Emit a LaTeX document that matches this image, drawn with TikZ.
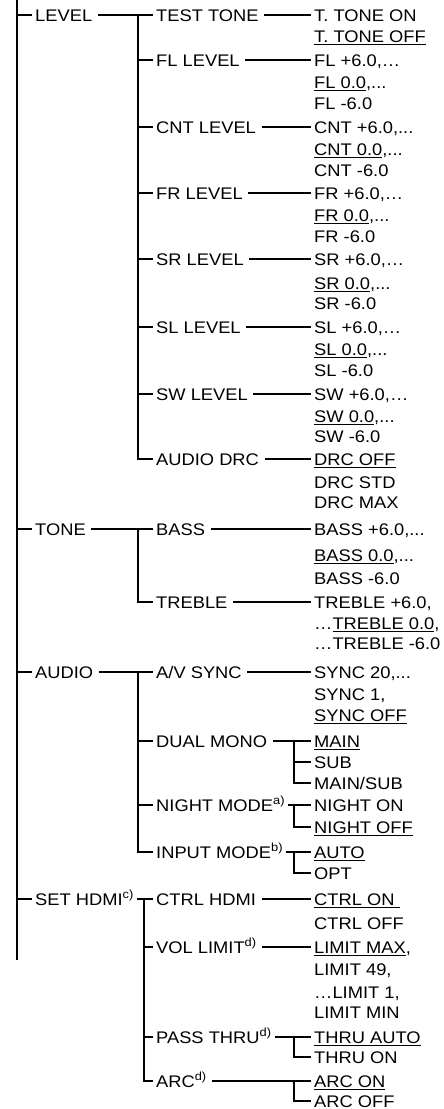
\documentclass[tikz,border=0pt]{standalone}
\usepackage{fontspec}
\setmainfont{Liberation Sans}[FakeStretch=1.09]
\newcommand\myul[1]{\setbox0\hbox{#1}\rlap{\rule[-3.2pt]{\wd0}{1.1pt}}\box0}
\tikzset{
  lab/.style={anchor=west, inner xsep=3pt, inner ysep=0pt, text height=12pt, text depth=0pt, font=\fontsize{16.8}{20}\selectfont},
  wire/.style={line width=1.8pt, line cap=butt},
  link/.style={wire, shorten <=2.5pt}
}
\begin{document}
\begin{tikzpicture}[x=1pt,y=-1pt]
\useasboundingbox (0,0) rectangle (444,1109);
% level 1
\node[lab] (L1) at (32,15) {LEVEL};
\node[lab] (T1) at (32,529) {TONE};
\node[lab] (A1) at (32,672) {AUDIO};
\node[lab] (H1) at (32,899) {SET HDMI\textsuperscript{c)}};
% level 2
\node[lab] (tt) at (153,15) {TEST TONE};
\node[lab] (fl) at (153,60) {FL LEVEL};
\node[lab] (cnt) at (153,127) {CNT LEVEL};
\node[lab] (fr) at (153,193) {FR LEVEL};
\node[lab] (sr) at (153,259) {SR LEVEL};
\node[lab] (sl) at (153,327) {SL LEVEL};
\node[lab] (sw) at (153,394) {SW LEVEL};
\node[lab] (drc) at (153,459) {AUDIO DRC};
\node[lab] (bass) at (153,529) {BASS};
\node[lab] (treb) at (153,602) {TREBLE};
\node[lab] (av) at (153,672) {A/V SYNC};
\node[lab] (dm) at (153,741) {DUAL MONO};
\node[lab] (nm) at (153,805) {NIGHT MODE\textsuperscript{a)}};
\node[lab] (im) at (153,852) {INPUT MODE\textsuperscript{b)}};
\node[lab] (ch) at (153,899) {CTRL HDMI};
\node[lab] (vl) at (153,947) {VOL LIMIT\textsuperscript{d)}};
\node[lab] (pt) at (153,1037) {PASS THRU\textsuperscript{d)}};
\node[lab] (arc) at (153,1081) {ARC\textsuperscript{d)}};
% values
\node[lab] (tt1) at (311,15) {T. TONE ON};
\node[lab] (tt2) at (311,36) {\myul{T. TONE OFF}};
\node[lab] (fl1) at (311,60) {FL +6.0,…};
\node[lab] (fl2) at (311,82) {\myul{FL 0.0},...};
\node[lab] (fl3) at (311,103) {FL -6.0};
\node[lab] (cn1) at (311,127) {CNT +6.0,...};
\node[lab] (cn2) at (311,149) {\myul{CNT 0.0},...};
\node[lab] (cn3) at (311,170) {CNT -6.0};
\node[lab] (fr1) at (311,193) {FR +6.0,…};
\node[lab] (fr2) at (311,215) {\myul{FR 0.0},...};
\node[lab] (fr3) at (311,236) {FR -6.0};
\node[lab] (sr1) at (311,259) {SR +6.0,…};
\node[lab] (sr2) at (311,283) {\myul{SR 0.0},...};
\node[lab] (sr3) at (311,303) {SR -6.0};
\node[lab] (sl1) at (311,327) {SL +6.0,…};
\node[lab] (sl2) at (311,349) {\myul{SL 0.0},...};
\node[lab] (sl3) at (311,370) {SL -6.0};
\node[lab] (sw1) at (311,394) {SW +6.0,…};
\node[lab] (sw2) at (311,416) {\myul{SW 0.0},...};
\node[lab] (sw3) at (311,436) {SW -6.0};
\node[lab] (dr1) at (311,459) {\myul{DRC OFF}};
\node[lab] (dr2) at (311,482) {DRC STD};
\node[lab] (dr3) at (311,502) {DRC MAX};
\node[lab] (ba1) at (311,529) {BASS +6.0,...};
\node[lab] (ba2) at (311,555) {\myul{BASS 0.0},...};
\node[lab] (ba3) at (311,578) {BASS -6.0};
\node[lab] (tr1) at (311,602) {TREBLE +6.0,};
\node[lab] (tr2) at (311,623) {…\myul{TREBLE 0.0},};
\node[lab] (tr3) at (311,643) {…TREBLE -6.0};
\node[lab] (sy1) at (311,672) {SYNC 20,...};
\node[lab] (sy2) at (311,694) {SYNC 1,};
\node[lab] (sy3) at (311,715) {\myul{SYNC OFF}};
\node[lab] (mn1) at (311,741) {\myul{MAIN}};
\node[lab] (mn2) at (311,762) {SUB};
\node[lab] (mn3) at (311,783) {MAIN/SUB};
\node[lab] (ng1) at (311,805) {NIGHT ON};
\node[lab] (ng2) at (311,827) {\myul{NIGHT OFF}};
\node[lab] (in1) at (311,852) {\myul{AUTO}};
\node[lab] (in2) at (311,873) {OPT};
\node[lab] (ct1) at (311,899) {\myul{CTRL ON\ }};
\node[lab] (ct2) at (311,923) {CTRL OFF};
\node[lab] (li1) at (311,947) {\myul{LIMIT MAX},};
\node[lab] (li2) at (311,969) {LIMIT 49,};
\node[lab] (li3) at (311,992) {…LIMIT 1,};
\node[lab] (li4) at (311,1012) {LIMIT MIN};
\node[lab] (th1) at (311,1037) {\myul{THRU AUTO}};
\node[lab] (th2) at (311,1057) {THRU ON};
\node[lab] (ac1) at (311,1081) {\myul{ARC ON}};
\node[lab] (ac2) at (311,1101) {ARC OFF};
% trunk coordinates
\coordinate (m0) at (17,0);
\coordinate (m1) at (17,960);
\coordinate (k1) at (138,0);
\coordinate (k4) at (144,0);
\coordinate (s) at (294,0);
% main trunk
\draw[wire] (m0) -- (m1);
\foreach \n in {L1,T1,A1,H1} \draw[wire] (m0 |- \n.west) -- (\n.west);
% level 1 -> level 2
\draw[link] (L1.east) -- (tt.west);
\draw[link] (T1.east) -- (bass.west);
\draw[link] (A1.east) -- (av.west);
\draw[wire] (H1.east) -- (ch.west);
% level 2 trunks
\draw[wire] (k1 |- tt.west) |- (drc.west);
\foreach \n in {fl,cnt,fr,sr,sl,sw} \draw[wire] (k1 |- \n.west) -- (\n.west);
\draw[wire] (k1 |- bass.west) |- (treb.west);
\draw[wire] (k1 |- av.west) |- (im.west);
\foreach \n in {dm,nm} \draw[wire] (k1 |- \n.west) -- (\n.west);
\draw[wire] (k4 |- ch.west) |- (arc.west);
\foreach \n in {vl,pt} \draw[wire] (k4 |- \n.west) -- (\n.west);
% level 2 -> values
\draw[link] (tt.east) -- (tt1.west);
\draw[link] (fl.east) -- (fl1.west);
\draw[link] (cnt.east) -- (cn1.west);
\draw[link] (fr.east) -- (fr1.west);
\draw[link] (sr.east) -- (sr1.west);
\draw[link] (sl.east) -- (sl1.west);
\draw[link] (sw.east) -- (sw1.west);
\draw[link] (drc.east) -- (dr1.west);
\draw[link] (bass.east) -- (ba1.west);
\draw[link] (treb.east) -- (tr1.west);
\draw[link] (av.east) -- (sy1.west);
\draw[link] (ch.east) -- (ct1.west);
\draw[link] (vl.east) -- (li1.west);
% sub trunks
\draw[link] (dm.east) -- (mn1.west);
\draw[wire] (s |- mn1.west) |- (mn3.west);
\draw[wire] (s |- mn2.west) -- (mn2.west);
\draw[wire] (nm.east) -- (ng1.west);
\draw[wire] (s |- ng1.west) |- (ng2.west);
\draw[wire] (im.east) -- (in1.west);
\draw[wire] (s |- in1.west) |- (in2.west);
\draw[wire] (pt.east) -- (th1.west);
\draw[wire] (s |- th1.west) |- (th2.west);
\draw[link] (arc.east) -- (ac1.west);
\draw[wire] (s |- ac1.west) |- (ac2.west);
\end{tikzpicture}
\end{document}
